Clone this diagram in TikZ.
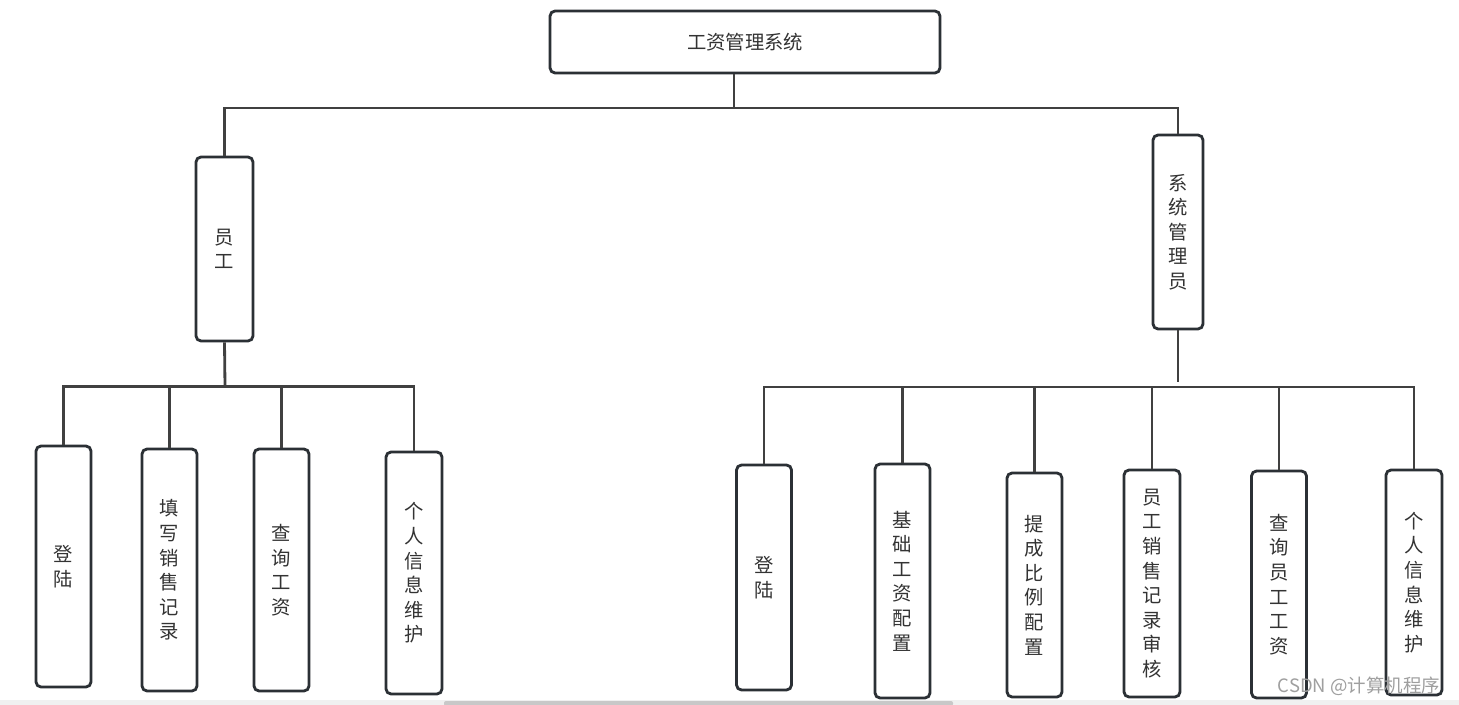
\documentclass[tikz,border=0pt]{standalone}
\usepackage{fontspec}
\usepackage{tikz}
\usepackage{xcolor}
\usetikzlibrary{positioning}
\newfontfamily\cjk{Noto Sans CJK SC}
\definecolor{boxline}{HTML}{2B3035}
\definecolor{wiregray}{HTML}{404040}
\definecolor{txtgray}{HTML}{333333}
\definecolor{barbg}{HTML}{F0F0F0}
\definecolor{barthumb}{HTML}{C8C8C8}

\tikzset{
  module/.style={draw=boxline, line width=1.6pt, rounded corners=0.1cm, fill=white, text=txtgray, align=center, inner sep=0pt, font=\cjk\fontsize{11}{14}\selectfont},
  wire/.style={draw=wiregray, line width=1.6pt}
}

\begin{document}
\begin{tikzpicture}[x=0.02cm, y=-0.02cm]
                        \useasboundingbox[fill=white] (0,0) rectangle (1459,705);
                        % top level
                        \node[module, minimum width=7.8cm, minimum height=1.24cm] (sys) at (745,42) {工资管理系统};
                        \node[module, minimum width=1.14cm, minimum height=3.68cm] (emp) at (224.5,249) {员\\工};
                        \node[module, minimum width=1.0cm, minimum height=3.88cm] (adm) at (1178,232) {系\\统\\管\\理\\员};
                        % employee functions
                        \node[module, minimum width=1.1cm, minimum height=4.82cm] (elogin) at (63.5,566.5) {登\\陆};
                        \node[module, minimum width=1.1cm, minimum height=4.84cm] (esale) at (169.5,570) {填\\写\\销\\售\\记\\录};
                        \node[module, minimum width=1.1cm, minimum height=4.84cm] (equery) at (281.5,570) {查\\询\\工\\资};
                        \node[module, minimum width=1.12cm, minimum height=4.84cm] (einfo) at (414,573) {个\\人\\信\\息\\维\\护};
                        % admin functions
                        \node[module, minimum width=1.1cm, minimum height=4.5cm] (alogin) at (764,577.5) {登\\陆};
                        \node[module, minimum width=1.1cm, minimum height=4.68cm] (abase) at (902.5,581) {基\\础\\工\\资\\配\\置};
                        \node[module, minimum width=1.1cm, minimum height=4.48cm] (arate) at (1034.5,585) {提\\成\\比\\例\\配\\置};
                        \node[module, minimum width=1.12cm, minimum height=4.54cm] (acheck) at (1152,583.5) {员\\工\\销\\售\\记\\录\\审\\核};
                        \node[module, minimum width=1.1cm, minimum height=4.54cm] (aquery) at (1279,584.5) {查\\询\\员\\工\\工\\资};
                        \node[module, minimum width=1.12cm, minimum height=4.5cm] (ainfo) at (1414,582.5) {个\\人\\信\\息\\维\\护};
                        % buses
                        \coordinate (b0) at (734,108);
                        \coordinate (bl) at (225,386.5);
                        \coordinate (br) at (1178,387);
                        \draw[wire] (sys.south -| b0) -- (b0);
                        \draw[wire] (emp.north) -- (emp.north |- b0) -- (adm.north |- b0) -- (adm.north);
                        \draw[wire] (emp.south) -- (bl);
                        \draw[wire] (adm.south) -- ([yshift=0.1cm]br);
                        \draw[wire] (elogin.north) -- (elogin.north |- bl) -- (einfo.north |- bl) -- (einfo.north);
                        \draw[wire] (esale.north) -- (esale.north |- bl);
                        \draw[wire] (equery.north) -- (equery.north |- bl);
                        \draw[wire] (alogin.north) -- (alogin.north |- br) -- (ainfo.north |- br) -- (ainfo.north);
                        \draw[wire] (abase.north) -- (abase.north |- br);
                        \draw[wire] (arate.north) -- (arate.north |- br);
                        \draw[wire] (acheck.north) -- (acheck.north |- br);
                        \draw[wire] (aquery.north) -- (aquery.north |- br);
                        % screenshot leftovers
                        \node[text=gray!75, font=\cjk\fontsize{10.5}{12}\selectfont, inner sep=0pt] (mark) at (1359,686.5) {CSDN @计算机程序};
                        \fill[barbg] (0,700) rectangle (1459,705);
                        \fill[barthumb, rounded corners=0.04cm] (444,701) rectangle (953,706);
                    \end{tikzpicture}
\end{document}
